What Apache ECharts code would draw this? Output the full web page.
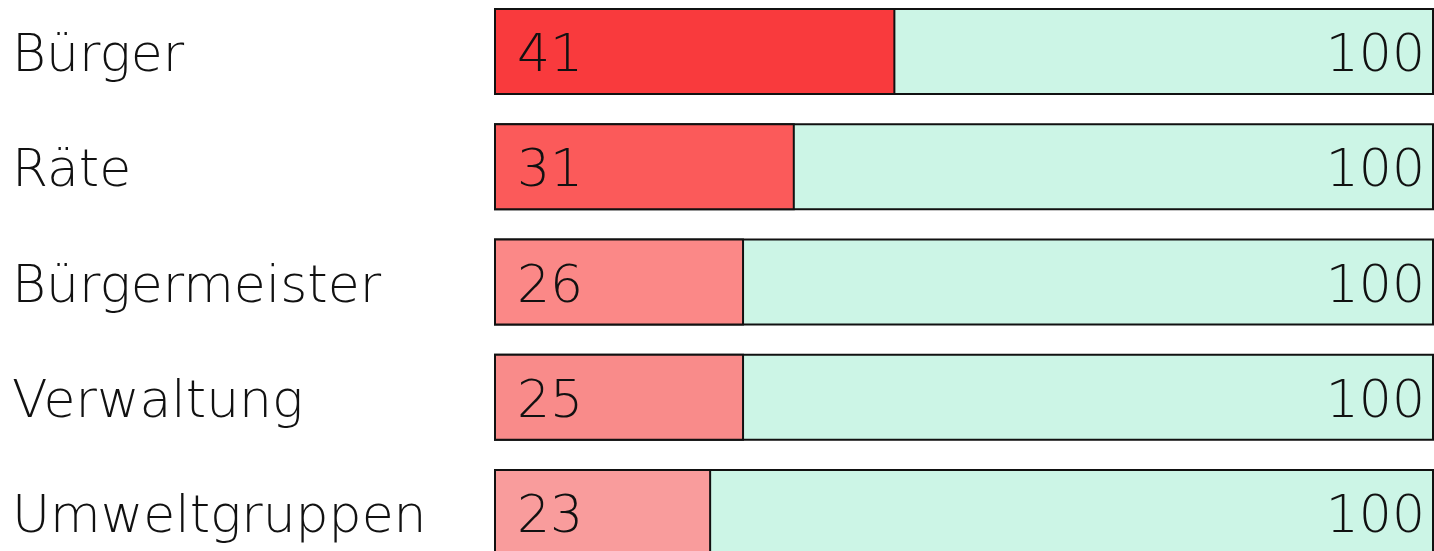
<!DOCTYPE html>
<html>
<head>
<meta charset="utf-8">
<script src="https://cdn.jsdelivr.net/npm/echarts@6/dist/echarts.min.js"></script>
<style>
  html, body { margin: 0; padding: 0; background: #fff; }
  #chart { width: 1434px; height: 551px; }
</style>
</head>
<body>
<div id="chart"></div>
<script>
const categories = ["Bürger", "Räte", "Bürgermeister", "Verwaltung", "Umweltgruppen"];
// printed numbers
const shownValues = [41, 31, 26, 25, 23];
// bar lengths as drawn (slightly off the printed numbers)
const barValues = [42.7, 32.0, 26.6, 26.6, 23.1];
const totalValues = [100, 100, 100, 100, 100];
const barColors = ["#f93a3d", "#fb5a5a", "#fb8887", "#f98b8a", "#f99c9c"];

const font = "'DejaVu Sans', sans-serif";
const textStyle = { fontFamily: font, fontWeight: 200, fontSize: 52, color: "#111" };

const chart = echarts.init(document.getElementById("chart"));
chart.setOption({
  animation: false,
  grid: { left: 494, width: 940, top: -6, height: 576, containLabel: false, outerBoundsMode: "none" },
  xAxis: { type: "value", min: 0, max: 100, show: false },
  yAxis: {
    type: "category",
    data: categories,
    inverse: true,
    axisLine: { show: false },
    axisTick: { show: false },
    axisLabel: Object.assign({
      align: "left",
      margin: 482,
      formatter: (v) => `{c|${v}}`,
      rich: { c: Object.assign({ padding: [12, 0, 0, 0] }, textStyle) }
    }, textStyle)
  },
  series: [
    {
      name: "Gesamt",
      type: "bar",
      data: totalValues,
      barWidth: 87,
      barGap: "-100%",
      itemStyle: { color: "#ccf5e6", borderColor: "#111", borderWidth: 2 },
      label: Object.assign({ show: true, position: "insideRight", distance: 9, offset: [0, 6] }, textStyle),
      z: 1
    },
    {
      name: "Wert",
      type: "bar",
      data: barValues.map((v, i) => ({ value: v, itemStyle: { color: barColors[i] } })),
      barWidth: 87,
      itemStyle: { borderColor: "#111", borderWidth: 2 },
      label: Object.assign({
        show: true,
        position: "insideLeft",
        distance: 23,
        offset: [0, 6],
        formatter: (p) => String(shownValues[p.dataIndex])
      }, textStyle),
      z: 2
    }
  ]
});
</script>
</body>
</html>
